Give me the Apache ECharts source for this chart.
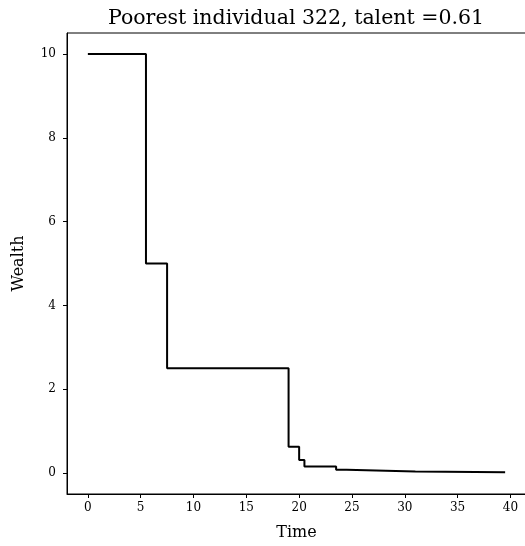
<!DOCTYPE html>
<html>
<head>
  <meta charset="UTF-8">
  <title>Poorest individual</title>
  <style>
    html, body { margin: 0; padding: 0; background: #fff; }
    #chart { width: 525px; height: 546px; }
  </style>
  <script src="https://cdn.jsdelivr.net/npm/echarts@6/dist/echarts.min.js"></script>
</head>
<body>
  <div id="chart"></div>
  <script>
    // times where wealth changes (years) and the wealth held from that time on
    var times = [0, 5.5, 7.5, 19, 20, 20.5, 23.5, 24.5, 31, 39.5];
    var wealth = [10, 5, 2.5, 0.625, 0.3125, 0.15625, 0.078125, 0.0390625, 0.01953125, 0.01953125];
    var xTicks = [0, 5, 10, 15, 20, 25, 30, 35, 40];
    var yTicks = [0, 2, 4, 6, 8, 10];

    var points = [];
    for (var i = 0; i < times.length; i++) {
      points.push([times[i], wealth[i]]);
    }

    var font = 'DejaVu Serif';
    var chart = echarts.init(document.getElementById('chart'));

    chart.setOption({
      animation: false,
      title: {
        text: 'Poorest individual 322, talent =0.61',
        left: 291,
        textAlign: 'center',
        top: 3,
        textStyle: { fontFamily: font, fontSize: 20.5, fontWeight: 'normal', color: '#000' }
      },
      grid: {
        left: 67,
        top: 33,
        width: 459,
        height: 461,
        show: true,
        borderColor: '#000',
        borderWidth: 1,
        containLabel: false,
        outerBoundsMode: 'none'
      },
      xAxis: {
        type: 'value',
        min: -1.975,
        max: 41.475,
        name: 'Time',
        nameLocation: 'middle',
        nameGap: 31,
        nameTextStyle: { fontFamily: font, fontSize: 16, color: '#000' },
        splitLine: { show: false },
        axisLine: { show: true, onZero: false, lineStyle: { color: '#000', width: 1 } },
        axisTick: { show: true, length: 4, customValues: xTicks, lineStyle: { color: '#000' } },
        axisLabel: { customValues: xTicks, margin: 8, fontFamily: font, fontSize: 12, color: '#000' }
      },
      yAxis: {
        type: 'value',
        min: -0.5,
        max: 10.5,
        name: 'Wealth',
        nameLocation: 'middle',
        nameGap: 40,
        nameTextStyle: { fontFamily: font, fontSize: 16, color: '#000' },
        splitLine: { show: false },
        axisLine: { show: true, onZero: false, lineStyle: { color: '#000', width: 1 } },
        axisTick: { show: true, length: 4, customValues: yTicks, lineStyle: { color: '#000' } },
        axisLabel: { customValues: yTicks, margin: 11, fontFamily: font, fontSize: 12, color: '#000' }
      },
      series: [{
        type: 'line',
        step: 'end',
        data: points,
        symbol: 'none',
        lineStyle: { color: '#000', width: 2 }
      }]
    });
  </script>
</body>
</html>
